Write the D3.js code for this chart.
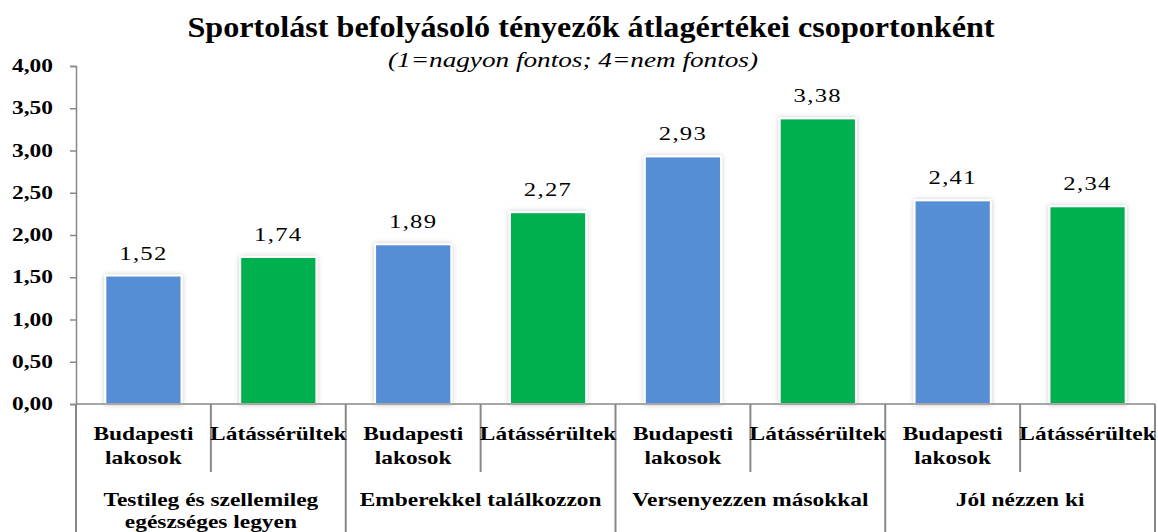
<!DOCTYPE html>
<html>
<head>
<meta charset="utf-8">
<script src="https://cdn.jsdelivr.net/npm/d3@7"></script>
<style>
  body { margin: 0; background: #fff; }
  svg text { font-family: "Liberation Serif", "Times New Roman", serif; fill: #000; }
</style>
</head>
<body>
<div id="viz"></div>
<script>
const groups = ['Testileg és szellemileg egészséges legyen', 'Emberekkel találkozzon', 'Versenyezzen másokkal', 'Jól nézzen ki'];
const groupLines = [['Testileg és szellemileg', 'egészséges legyen'], ['Emberekkel találkozzon'], ['Versenyezzen másokkal'], ['Jól nézzen ki']];
const seriesNames = ['Budapesti lakosok', 'Látássérültek'];
const seriesLines = [['Budapesti', 'lakosok'], ['Látássérültek']];
const budapest = [1.52, 1.89, 2.93, 2.41];
const latasserult = [1.74, 2.27, 3.38, 2.34];
const yTicks = [0, 0.5, 1, 1.5, 2, 2.5, 3, 3.5, 4];
const colors = ['#558ED5', '#00B050'];

const width = 1158, height = 532;
const margin = { top: 66, right: 3, bottom: 128, left: 76 };
const innerWidth = width - margin.left - margin.right;
const innerHeight = height - margin.top - margin.bottom;
const stretch = 1.3; // the original's text is wide

const svg = d3.select('#viz').append('svg')
  .attr('width', width)
  .attr('height', height);

const defs = svg.append('defs');
const shadow = defs.append('filter').attr('id', 'shadow')
  .attr('x', '-20%').attr('y', '-5%').attr('width', '140%').attr('height', '110%');
shadow.append('feGaussianBlur').attr('in', 'SourceAlpha').attr('stdDeviation', 2.5).attr('result', 'blur');
shadow.append('feFlood').attr('flood-color', '#000').attr('flood-opacity', 0.22);
shadow.append('feComposite').attr('in2', 'blur').attr('operator', 'in').attr('result', 'sh');
const merge = shadow.append('feMerge');
merge.append('feMergeNode').attr('in', 'sh');
merge.append('feMergeNode').attr('in', 'SourceGraphic');

// wide text helper
function wideText(parent, x, y, str, size, weight, anchor) {
  return parent.append('text')
    .attr('transform', `translate(${x},${y}) scale(${stretch},1)`)
    .attr('text-anchor', anchor || 'middle')
    .style('font-size', size + 'px')
    .style('font-weight', weight || 'normal')
    .text(str);
}

// title
svg.append('text')
  .attr('x', 591).attr('y', 37)
  .attr('text-anchor', 'middle')
  .attr('textLength', 807).attr('lengthAdjust', 'spacingAndGlyphs')
  .style('font-size', '30px').style('font-weight', 'bold')
  .text('Sportolást befolyásoló tényezők átlagértékei csoportonként');
svg.append('text')
  .attr('x', 573).attr('y', 67)
  .attr('text-anchor', 'middle')
  .attr('textLength', 370).attr('lengthAdjust', 'spacingAndGlyphs')
  .style('font-size', '21px').style('font-style', 'italic')
  .text('(1=nagyon fontos; 4=nem fontos)');

const chart = svg.append('g')
  .attr('transform', `translate(${margin.left},${margin.top})`);

const rows = [];
groups.forEach((g, i) => {
  rows.push({ key: g + '|0', group: i, s: 0, value: budapest[i] });
  rows.push({ key: g + '|1', group: i, s: 1, value: latasserult[i] });
});

const x = d3.scaleBand()
  .domain(rows.map(d => d.key))
  .range([0, innerWidth])
  .padding(0);

const y = d3.scaleLinear()
  .domain([0, 4])
  .range([innerHeight, 0]);

const barW = x.bandwidth() * 0.565;
const fmt = v => d3.format('.2f')(v).replace('.', ',');

// y axis
const yAxis = chart.append('g')
  .call(d3.axisLeft(y).tickValues(yTicks).tickSize(6).tickFormat(''));
yAxis.select('.domain').attr('stroke', '#888').attr('stroke-width', 1.5);
yAxis.selectAll('.tick line').attr('stroke', '#888').attr('stroke-width', 1.5);
yTicks.forEach(t => {
  wideText(chart, -23, y(t) + 6, fmt(t), 18, 'bold', 'end');
});

// bars
chart.selectAll('.bar')
  .data(rows)
  .enter()
  .append('rect')
  .attr('class', 'bar')
  .attr('x', d => x(d.key) + (x.bandwidth() - barW) / 2)
  .attr('y', d => y(d.value))
  .attr('width', barW)
  .attr('height', d => innerHeight - y(d.value))
  .attr('fill', d => colors[d.s])
  .attr('stroke', '#fff')
  .attr('stroke-width', 2)
  .attr('filter', 'url(#shadow)');

// value labels
rows.forEach(d => {
  wideText(chart, x(d.key) + x.bandwidth() / 2, y(d.value) - 16, fmt(d.value), 19)
    .style('letter-spacing', '1px');
});

// x axis line
chart.append('line')
  .attr('x1', 0).attr('x2', innerWidth)
  .attr('y1', innerHeight).attr('y2', innerHeight)
  .attr('stroke', '#888').attr('stroke-width', 1.5);

// category dividers
const bounds = d3.range(rows.length + 1);
chart.selectAll('.div')
  .data(bounds)
  .enter()
  .append('line')
  .attr('x1', i => i * x.step())
  .attr('x2', i => i * x.step())
  .attr('y1', innerHeight)
  .attr('y2', i => i % 2 === 0 ? height - margin.top : innerHeight + 68)
  .attr('stroke', '#888').attr('stroke-width', 2);

// series labels
rows.forEach(d => {
  seriesLines[d.s].forEach((t, j) => {
    wideText(chart, x(d.key) + x.bandwidth() / 2, innerHeight + 36 + j * 24, t, 18, 'bold');
  });
});

// group labels
groups.forEach((g, i) => {
  groupLines[i].forEach((t, j) => {
    wideText(chart, x(g + '|0') + x.bandwidth(), innerHeight + 102 + j * 22, t, 18, 'bold');
  });
});
</script>
</body>
</html>
